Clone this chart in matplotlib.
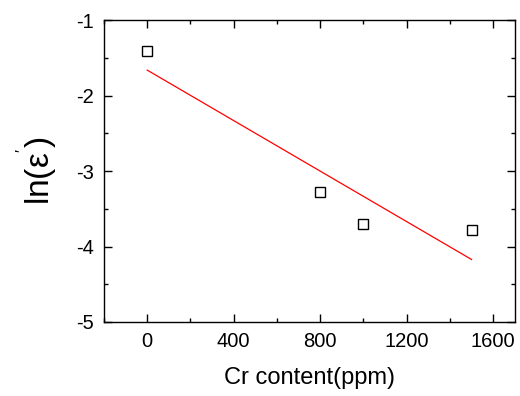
import numpy as np
import matplotlib
matplotlib.use("Agg")
import matplotlib.pyplot as plt
from matplotlib.ticker import MultipleLocator

plt.rcParams['font.family'] = ['Liberation Sans', 'DejaVu Sans']
plt.rcParams['mathtext.default'] = 'regular'
plt.rcParams['axes.unicode_minus'] = False

cr_ppm = [0, 800, 1000, 1500]
ln_eps = [-1.41, -3.28, -3.70, -3.78]

fig = plt.figure(figsize=(5.2, 3.96), dpi=100)
ax = fig.add_axes([0.2, 0.187, 0.79, 0.762])

ax.plot(cr_ppm, ln_eps, linestyle='none', marker='s', markersize=7.5,
        markerfacecolor='none', markeredgecolor='black', markeredgewidth=1.0)

coef = np.polyfit(cr_ppm, ln_eps, 1)
xf = np.array([min(cr_ppm), max(cr_ppm)])
ax.plot(xf, np.polyval(coef, xf), color='red', linewidth=0.9)

ax.set_xlim(-200, 1700)
ax.set_ylim(-5, -1)
ax.xaxis.set_major_locator(MultipleLocator(400))
ax.xaxis.set_minor_locator(MultipleLocator(200))
ax.yaxis.set_major_locator(MultipleLocator(1))
ax.yaxis.set_minor_locator(MultipleLocator(0.5))
ax.tick_params(which='both', direction='in', top=True, right=True, width=1.0)
ax.tick_params(which='major', length=6, labelsize=14.5, pad=7)
ax.tick_params(which='minor', length=3)
ax.tick_params(axis='x', which='major', labeltop=False)
for s in ax.spines.values():
    s.set_linewidth(1.0)

ax.set_xlabel('Cr content(ppm)', fontsize=17, labelpad=12)
ax.set_ylabel("ln(ε$^{'}$)", fontsize=24, labelpad=12)

fig.savefig('out.png', dpi=100)
